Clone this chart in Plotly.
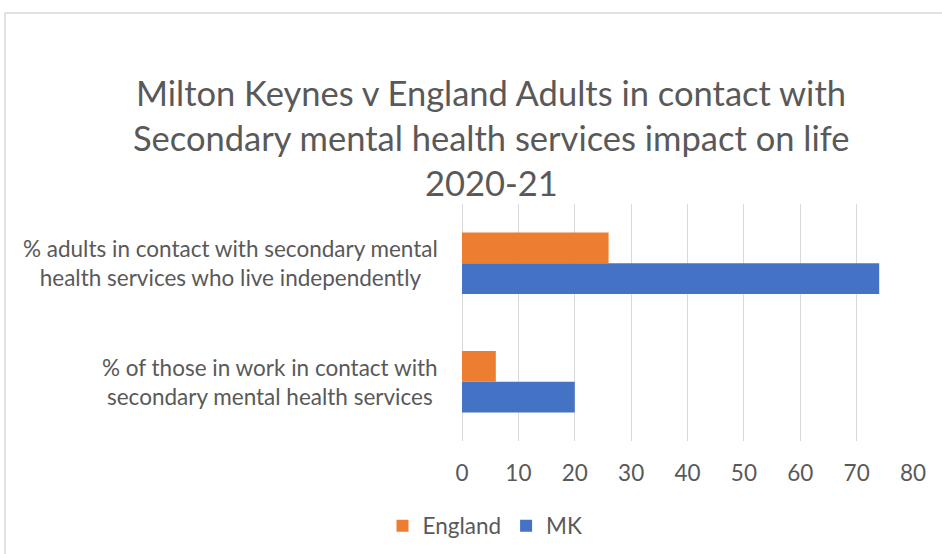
import plotly.graph_objects as go

# Data
categories = [
    "% of those in work in contact with<br>secondary mental health services",
    "% adults in contact with secondary mental<br>health services who live independently",
]
england = [6, 26]
mk = [20, 74]
x_ticks = [0, 10, 20, 30, 40, 50, 60, 70, 80]
title_lines = [
    "Milton Keynes v England Adults in contact with",
    "Secondary mental health services impact on life",
    "2020-21",
]

FONT = "Lato"
GREY = "#595959"
SMALL = 22.5
W, H = 942, 554
L, R, T, B = 462, 29, 204, 113
plot_w = W - L - R
plot_h = H - T - B


def px_x(px):
    return (px - L) / plot_w


def px_y(py):
    return 1 - (py - T) / plot_h


fig = go.Figure()
fig.add_trace(go.Bar(y=categories, x=mk, name="MK", orientation="h",
                     marker=dict(color="#4472C4", line=dict(width=0))))
fig.add_trace(go.Bar(y=categories, x=england, name="England", orientation="h",
                     marker=dict(color="#ED7D31", line=dict(width=0))))

# Title lines
for i, line in enumerate(title_lines):
    fig.add_annotation(text=line, xref="paper", yref="paper",
                       x=px_x(491), y=px_y(92 + 45 * i),
                       xanchor="center", yanchor="middle", showarrow=False,
                       font=dict(family=FONT, size=34.5, color=GREY))

# Category labels, centred multi-line text
for cat in categories:
    fig.add_annotation(text=cat, xref="paper", yref="y", x=px_x(440), y=cat,
                       xanchor="right", yanchor="middle", align="center",
                       showarrow=False,
                       font=dict(family=FONT, size=SMALL, color=GREY))

# Chart border
fig.add_shape(type="rect", xref="paper", yref="paper",
              x0=px_x(5), x1=px_x(960), y0=px_y(13), y1=px_y(570),
              line=dict(color="#d9d9d9", width=1.5), layer="below")

fig.update_layout(
    width=W, height=H,
    margin=dict(l=L, r=R, t=T, b=B, pad=0, autoexpand=False),
    paper_bgcolor="white", plot_bgcolor="white",
    barmode="group", bargap=0.48, bargroupgap=0,
    font=dict(family=FONT, size=SMALL, color=GREY),
    showlegend=True,
    legend=dict(orientation="h", traceorder="reversed",
                x=px_x(485), xanchor="center", y=px_y(526), yanchor="middle",
                font=dict(family=FONT, size=SMALL, color=GREY),
                itemwidth=30),
    xaxis=dict(range=[0, 80], tickvals=x_ticks, showgrid=True,
               gridcolor="#d9d9d9", gridwidth=1.3, zeroline=True,
               zerolinecolor="#d9d9d9", zerolinewidth=1.3,
               ticks="", ticklabelstandoff=16, showline=False,
               tickfont=dict(family=FONT, size=SMALL, color=GREY)),
    yaxis=dict(showticklabels=False, showgrid=False, zeroline=False,
               showline=False, ticks=""),
)

fig.write_html("out.html")
